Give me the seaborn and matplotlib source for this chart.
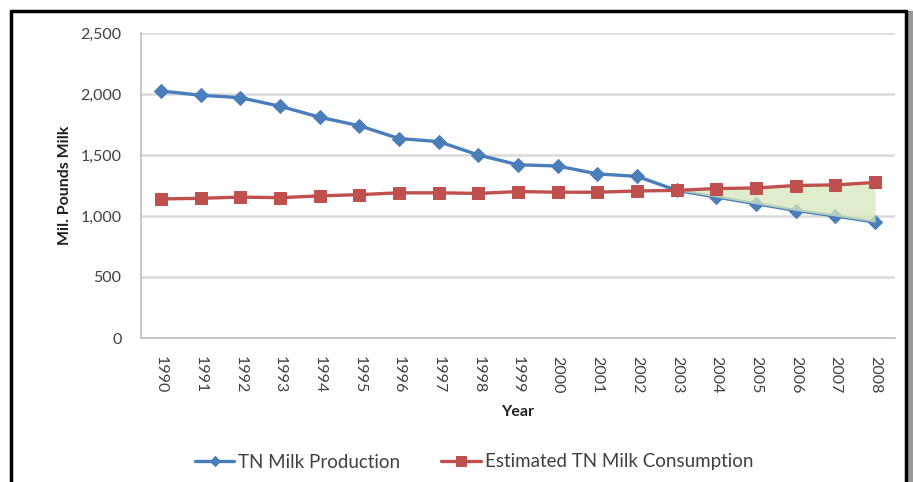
import matplotlib
matplotlib.use("Agg")
import matplotlib.pyplot as plt
from matplotlib.lines import Line2D
from matplotlib.ticker import FuncFormatter, MultipleLocator
import seaborn as sns
import pandas as pd
import numpy as np

years = list(range(1990, 2009))
production = [2025, 1990, 1970, 1900, 1810, 1740, 1635, 1610, 1500, 1420,
              1410, 1345, 1325, 1210, 1155, 1100, 1045, 1000, 950]
consumption = [1140, 1145, 1155, 1150, 1165, 1175, 1190, 1190, 1185, 1200,
               1195, 1195, 1205, 1210, 1225, 1230, 1250, 1255, 1275]
series_names = ["TN Milk Production", "Estimated TN Milk Consumption"]
colors = ["#4a7ebb", "#c0504d"]
gap_start = 2003

sns.set_theme(style="white")
plt.rcParams['font.family'] = ['Lato', 'DejaVu Sans']

W, H = 913, 482
fig = plt.figure(figsize=(W / 100, H / 100), dpi=100)
fig.patch.set_facecolor("white")
ax = fig.add_axes([141 / W, 1 - 338 / H, (895 - 141) / W, (338 - 33) / H])

df = pd.DataFrame({"Year": years * 2,
                   "Value": production + consumption,
                   "Series": [series_names[0]] * len(years) + [series_names[1]] * len(years)})

sns.lineplot(data=df[df.Series == series_names[0]], x="Year", y="Value", ax=ax,
             color=colors[0], marker="D", markersize=7, linewidth=2.4,
             markeredgecolor=colors[0], label=series_names[0], zorder=3)
sns.lineplot(data=df[df.Series == series_names[1]], x="Year", y="Value", ax=ax,
             color=colors[1], marker="s", markersize=9, linewidth=2.4,
             markeredgecolor=colors[1], label=series_names[1], zorder=5)

yrs = np.array(years)
mask = yrs >= gap_start
ax.fill_between(yrs[mask], np.array(production)[mask], np.array(consumption)[mask],
                color="#d6e7bc", alpha=0.75, zorder=4, linewidth=0)

ax.set_xlim(1990 - 0.48, 2008 + 0.38)
ax.set_ylim(0, 2500)
ax.yaxis.set_major_locator(MultipleLocator(500))
ax.yaxis.set_major_formatter(FuncFormatter(lambda v, p: f"{int(v):,}"))
ax.set_xticks(years)
ax.set_xticklabels([str(y) for y in years], rotation=270)
ax.set_xticks([y - 0.5 for y in years] + [2008.5], minor=True)
ax.tick_params(axis="x", which="major", length=0, pad=13, labelsize=11.5, labelcolor="#404040")
ax.tick_params(axis="x", which="minor", length=5, width=1, color="#bfbfbf", direction="out")
ax.tick_params(axis="y", which="major", length=5, width=1, color="#bfbfbf", direction="out",
               labelsize=11.5, labelcolor="#404040", pad=9)
ax.grid(axis="y", color="#d9d9d9", linewidth=1.8)
ax.grid(axis="x", visible=False)
for s in ["top", "right"]:
    ax.spines[s].set_visible(False)
for s in ["left", "bottom"]:
    ax.spines[s].set_color("#bfbfbf")
    ax.spines[s].set_linewidth(1.2)

ax.set_ylabel("Mil. Pounds Milk", fontsize=11.5, fontweight="bold", color="#202020", labelpad=6)
ax.set_xlabel("Year", fontsize=11.5, fontweight="bold", color="#202020", labelpad=8)

handles, labels = ax.get_legend_handles_labels()
ax.get_legend().remove()
fig.legend(handles, labels, loc="center", bbox_to_anchor=(474 / W, 1 - 462 / H), ncol=2,
           frameon=False, fontsize=13.5, handlelength=2.1, handletextpad=0.2,
           columnspacing=2.2, labelcolor="#404040", markerscale=0.75)

# frame border
bx0, by0, bx1 = 11 / W, 1 - 11 / H, 906 / W
fig.add_artist(Line2D([bx0, bx0], [0, by0], color="black", linewidth=2.5, transform=fig.transFigure))
fig.add_artist(Line2D([bx0, bx1], [by0, by0], color="black", linewidth=2.5, transform=fig.transFigure))
fig.add_artist(Line2D([bx1, bx1], [0, by0], color="black", linewidth=2.5, transform=fig.transFigure))
fig.add_artist(plt.Rectangle((908 / W, 0), 5 / W, 1 - 11 / H, color="#999999",
                             transform=fig.transFigure, zorder=0))

fig.savefig("out.png", dpi=100)
